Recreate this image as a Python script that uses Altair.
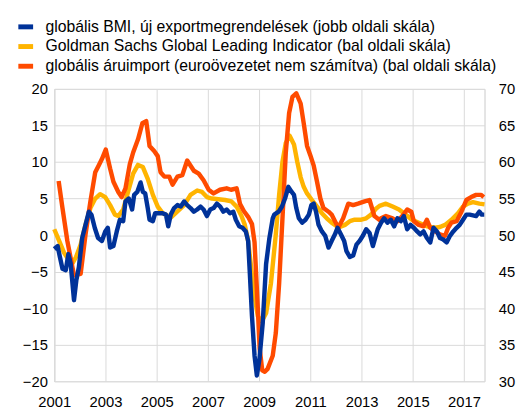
import altair as alt
import pandas as pd

# --- data ---
NAME_BMI = "globális BMI, új exportmegrendelések (jobb oldali skála)"
NAME_GS = "Goldman Sachs Global Leading Indicator (bal oldali skála)"
NAME_IMP = "globális áruimport (euroövezetet nem számítva) (bal oldali skála)"

series_names = [NAME_BMI, NAME_GS, NAME_IMP]
series_colors = ["#003299", "#FFB400", "#FF4B00"]

# global PMI new export orders (right axis)
yrs_bmi = [2001.0, 2001.13, 2001.22, 2001.32, 2001.45, 2001.55, 2001.64, 2001.77, 2001.86, 2001.96,
           2002.09, 2002.22, 2002.35, 2002.45, 2002.58, 2002.71, 2002.86, 2002.99, 2003.09, 2003.18,
           2003.31, 2003.44, 2003.56, 2003.69, 2003.78, 2003.91, 2004.04, 2004.12, 2004.24, 2004.37,
           2004.46, 2004.55, 2004.65, 2004.72, 2004.85, 2004.94, 2005.1, 2005.23, 2005.36, 2005.45,
           2005.55, 2005.68, 2005.81, 2005.94, 2006.07, 2006.19, 2006.32, 2006.45, 2006.58, 2006.71,
           2006.83, 2006.96, 2007.09, 2007.22, 2007.35, 2007.48, 2007.6, 2007.73, 2007.86, 2007.99,
           2008.09, 2008.22, 2008.35, 2008.48, 2008.57, 2008.63, 2008.72, 2008.82, 2008.91, 2009.01,
           2009.14, 2009.27, 2009.4, 2009.53, 2009.59, 2009.76, 2009.89, 2010.01, 2010.14, 2010.27,
           2010.36, 2010.45, 2010.55, 2010.68, 2010.81, 2010.94, 2011.04, 2011.13, 2011.22, 2011.32,
           2011.45, 2011.58, 2011.71, 2011.83, 2011.96, 2012.06, 2012.19, 2012.32, 2012.41, 2012.54,
           2012.67, 2012.8, 2012.92, 2013.05, 2013.18, 2013.31, 2013.44, 2013.63, 2013.76, 2013.88,
           2014.01, 2014.14, 2014.27, 2014.4, 2014.53, 2014.65, 2014.78, 2014.91, 2015.04, 2015.17,
           2015.29, 2015.42, 2015.55, 2015.68, 2015.81, 2015.94, 2016.06, 2016.19, 2016.32, 2016.45,
           2016.58, 2016.71, 2016.83, 2016.96, 2017.09, 2017.22, 2017.35, 2017.47, 2017.6, 2017.69,
           2017.79]
bmi = [48.1, 48.5, 47.0, 45.4, 45.2, 47.4, 46.1, 41.1, 43.8, 45.6,
       49.6, 51.4, 53.2, 52.8, 51.0, 49.6, 49.2, 50.5, 51.0, 48.3,
       48.5, 50.5, 52.1, 51.9, 54.6, 55.0, 53.5, 55.5, 55.9, 57.2,
       55.9, 55.7, 53.7, 52.1, 51.9, 53.0, 53.0, 53.0, 52.8, 51.2,
       52.8, 53.7, 54.1, 53.9, 54.6, 54.1, 53.7, 53.2, 53.5, 53.9,
       53.5, 52.6, 53.5, 53.7, 54.3, 53.9, 53.2, 53.5, 53.0, 53.2,
       52.1, 51.2, 51.0, 50.5, 49.2, 45.2, 38.9, 33.5, 30.8, 33.0,
       38.0, 46.0, 49.6, 52.3, 52.8, 53.2, 53.9, 55.0, 56.6, 55.9,
       55.5, 53.7, 52.3, 51.7, 52.1, 52.8, 54.1, 54.3, 53.2, 51.4,
       50.5, 49.9, 48.3, 49.2, 50.1, 51.0, 50.1, 49.2, 47.8, 47.0,
       47.2, 48.7, 49.2, 49.9, 50.8, 50.3, 48.5, 50.8, 51.7, 52.3,
       51.7, 52.1, 51.2, 52.3, 51.9, 52.6, 50.8, 51.4, 51.0, 50.5,
       50.1, 50.5, 49.6, 49.0, 51.0, 50.5, 49.6, 49.4, 49.0, 49.9,
       50.5, 51.0, 51.4, 52.1, 52.8, 52.8, 52.7, 52.6, 53.2, 52.8,
       52.8]

# Goldman Sachs Global Leading Indicator (left axis)
yrs_gs = [2001.0, 2001.19, 2001.38, 2001.58, 2001.72, 2001.85, 2002.03, 2002.22, 2002.41, 2002.6,
          2002.79, 2002.99, 2003.18, 2003.37, 2003.5, 2003.69, 2003.88, 2004.08, 2004.27, 2004.46,
          2004.65, 2004.85, 2005.04, 2005.23, 2005.55, 2005.8, 2006.07, 2006.32, 2006.58, 2006.77,
          2006.96, 2007.16, 2007.41, 2007.67, 2007.92, 2008.12, 2008.31, 2008.44, 2008.57, 2008.7,
          2008.82, 2008.95, 2009.1, 2009.27, 2009.46, 2009.65, 2009.78, 2009.91, 2010.04, 2010.19,
          2010.36, 2010.49, 2010.62, 2010.74, 2010.87, 2011.06, 2011.26, 2011.45, 2011.64, 2011.83,
          2012.03, 2012.15, 2012.35, 2012.54, 2012.73, 2012.99, 2013.18, 2013.37, 2013.56, 2013.7,
          2013.95, 2014.21, 2014.46, 2014.72, 2014.97, 2015.23, 2015.55, 2015.87, 2016.06, 2016.26,
          2016.51, 2016.77, 2016.96, 2017.15, 2017.35, 2017.6, 2017.8]
gs = [0.8, -0.8, -2.4, -3.5, -3.8, -3.0, -1.3, 1.4, 3.7, 5.0,
      5.6, 5.2, 4.1, 2.8, 2.6, 3.5, 5.9, 8.4, 9.6, 9.3,
      7.7, 5.5, 3.9, 3.0, 2.4, 3.2, 4.1, 5.5, 6.1, 5.9,
      5.2, 5.0, 4.9, 4.8, 4.6, 3.9, 2.6, 1.4, -0.8, -4.8,
      -8.4, -11.1, -11.8, -10.7, -6.6, 0.1, 5.5, 10.0, 12.6, 13.6,
      12.4, 10.0, 7.9, 6.6, 5.7, 4.8, 3.9, 3.0, 2.3, 1.7,
      1.2, 1.1, 1.4, 1.9, 2.1, 2.1, 2.3, 2.8, 3.6, 4.0,
      4.3, 3.9, 3.5, 2.8, 2.1, 1.7, 1.2, 1.0, 1.1, 1.4,
      2.1, 3.0, 3.9, 4.3, 4.5, 4.3, 4.2]

# global goods imports excl. euro area (left axis)
yrs_imp = [2001.17, 2001.32, 2001.51, 2001.77, 2002.03, 2002.22, 2002.41, 2002.6, 2002.73, 2002.86,
           2003.01, 2003.18, 2003.31, 2003.5, 2003.63, 2003.78, 2003.95, 2004.08, 2004.27, 2004.44,
           2004.59, 2004.72, 2004.9, 2005.04, 2005.15, 2005.3, 2005.49, 2005.62, 2005.81, 2006.0,
           2006.19, 2006.45, 2006.64, 2006.83, 2007.03, 2007.22, 2007.47, 2007.73, 2007.9, 2008.12,
           2008.25, 2008.4, 2008.57, 2008.72, 2008.82, 2008.92, 2009.02, 2009.12, 2009.22, 2009.33,
           2009.53, 2009.65, 2009.78, 2009.91, 2010.04, 2010.17, 2010.3, 2010.45, 2010.62, 2010.74,
           2010.87, 2011.0, 2011.13, 2011.26, 2011.39, 2011.51, 2011.71, 2011.83, 2011.96, 2012.09,
           2012.28, 2012.48, 2012.67, 2012.86, 2013.12, 2013.31, 2013.5, 2013.69, 2013.76, 2013.95,
           2014.21, 2014.4, 2014.59, 2014.78, 2014.94, 2015.04, 2015.23, 2015.42, 2015.55, 2015.68,
           2015.87, 2016.06, 2016.26, 2016.38, 2016.51, 2016.71, 2016.9, 2017.09, 2017.28, 2017.47,
           2017.67, 2017.77]
imp = [7.4, 3.7, -0.8, -5.5, -5.3, 0.1, 4.6, 8.6, 9.5, 10.4,
       11.7, 9.1, 7.3, 5.9, 5.2, 6.4, 9.7, 11.3, 13.1, 15.3,
       15.6, 12.2, 11.5, 10.8, 8.6, 8.0, 8.0, 6.9, 8.0, 8.2,
       10.2, 8.8, 8.4, 7.5, 6.2, 5.7, 6.2, 6.4, 6.2, 6.4,
       4.3, 3.3, 2.5, 1.5, -1.0, -8.0, -15.5, -18.5, -18.7, -18.3,
       -16.5, -13.4, -6.6, 2.3, 11.3, 16.7, 18.9, 19.4, 18.0, 15.3,
       12.2, 10.9, 9.5, 7.3, 5.0, 3.7, 3.2, 2.8, 1.9, 1.0,
       2.3, 4.3, 4.1, 4.3, 4.6, 4.8, 2.6, 2.1, 2.3, 2.6,
       2.3, 1.9, 2.6, 3.5, 3.2, 1.9, 1.4, 1.2, 2.1, 1.0,
       0.5, 0.1, -0.1, 1.0, 1.7, 1.9, 3.2, 4.8, 5.2, 5.5,
       5.5, 5.2]

year_ticks = [2001, 2003, 2005, 2007, 2009, 2011, 2013, 2015, 2017]
left_ticks = [-20, -15, -10, -5, 0, 5, 10, 15, 20]
right_ticks = [30, 35, 40, 45, 50, 55, 60, 65, 70]

df_bmi = pd.DataFrame({"t": yrs_bmi, "v": bmi, "series": NAME_BMI})
df_gs = pd.DataFrame({"t": yrs_gs, "v": gs, "series": NAME_GS})
df_imp = pd.DataFrame({"t": yrs_imp, "v": imp, "series": NAME_IMP})

FONT = "Liberation Sans"
GRID = "#d9d9d9"
W, H = 437, 297

x_enc = alt.X("t:Q", scale=alt.Scale(domain=[2001, 2017.8], nice=False, zero=False),
              axis=alt.Axis(values=year_ticks, format="d", title=None, grid=True,
                            gridColor=GRID, ticks=False, domain=False,
                            labelPadding=14, labelFontSize=15, labelColor="#000",
                            labelFont=FONT, labelFlush=False))

color_enc = alt.Color("series:N",
                      scale=alt.Scale(domain=series_names, range=series_colors),
                      legend=alt.Legend(title=None, orient="none", legendX=-39, legendY=-73,
                                        direction="vertical", symbolType="stroke",
                                        symbolStrokeWidth=5, symbolSize=225,
                                        labelFontSize=16, labelFont=FONT, labelColor="#000",
                                        labelOffset=10, rowPadding=0, labelLimit=600))

left_axis = alt.Axis(values=left_ticks, title=None, grid=True, gridColor=GRID, ticks=False,
                     domain=True, domainColor=GRID, labelPadding=7, labelFontSize=15,
                     labelColor="#000", labelFont=FONT, orient="left")
right_axis = alt.Axis(values=right_ticks, title=None, grid=False, ticks=False,
                      domain=True, domainColor=GRID, labelPadding=14, labelFontSize=15,
                      labelColor="#000", labelFont=FONT, orient="right")

gs_line = alt.Chart(df_gs).mark_line(strokeWidth=4.5, strokeJoin="round").encode(
    x=x_enc,
    y=alt.Y("v:Q", scale=alt.Scale(domain=[-20, 20], nice=False), axis=left_axis),
    color=color_enc,
)
imp_line = alt.Chart(df_imp).mark_line(strokeWidth=4.5, strokeJoin="round").encode(
    x=x_enc,
    y=alt.Y("v:Q", scale=alt.Scale(domain=[-20, 20], nice=False), axis=left_axis),
    color=color_enc,
)
left_layer = alt.layer(gs_line, imp_line)

bmi_line = alt.Chart(df_bmi).mark_line(strokeWidth=4.5, strokeJoin="round").encode(
    x=x_enc,
    y=alt.Y("v:Q", scale=alt.Scale(domain=[30, 70], nice=False), axis=right_axis),
    color=color_enc,
)

chart = alt.layer(left_layer, bmi_line).resolve_scale(y="independent").properties(
    width=W, height=H,
    autosize=alt.AutoSizeParams(type="none"),
    padding={"left": 47, "top": 79, "right": 34, "bottom": 26},
).configure_view(stroke=None).configure(background="white")

chart.save("out.html", embed_options={"renderer": "svg", "actions": False})
